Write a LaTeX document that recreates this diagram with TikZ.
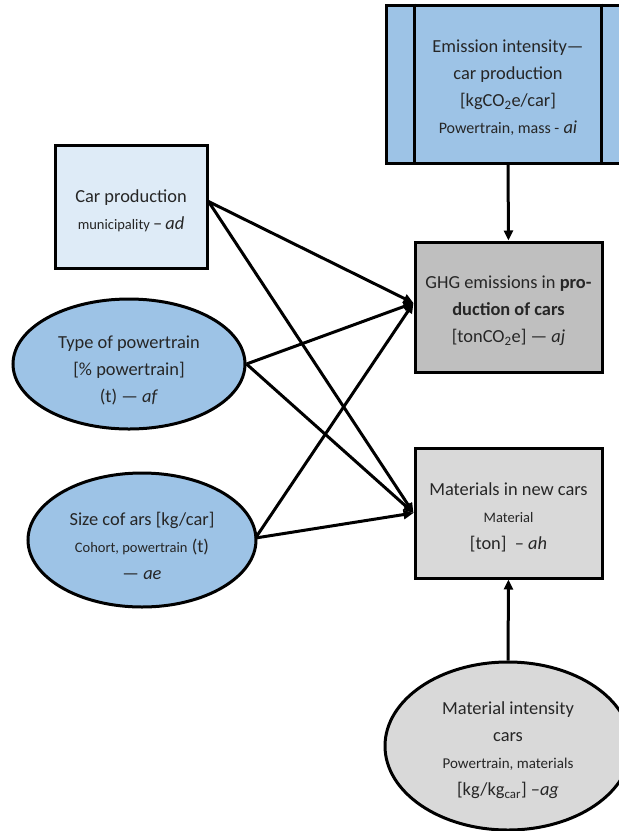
\documentclass[tikz,border=0pt]{standalone}
\usepackage{fontspec}
\setmainfont{Carlito}
\usetikzlibrary{shapes.geometric,arrows.meta}
\definecolor{midblue}{HTML}{9DC3E6}
\definecolor{paleblue}{HTML}{DEEBF7}
\definecolor{darkgrey}{HTML}{BFBFBF}
\definecolor{lightgrey}{HTML}{D9D9D9}
\definecolor{txt}{HTML}{262626}
\newcommand{\sm}[1]{{\fontsize{14.5}{27}\selectfont #1}}
\newcommand{\smb}[1]{{\fontsize{16}{27}\selectfont #1}}
\newcommand{\tsa}{\rule{0pt}{21pt}}
\newcommand{\tsb}{\rule{0pt}{25pt}}
\begin{document}
\begin{tikzpicture}[x=1pt,y=-1pt,
  base/.style={draw=black,line width=3pt,inner sep=0pt,align=center,text=txt,
    font=\fontsize{18.4}{27}\selectfont},
  boxnode/.style={base,rectangle},
  ellnode/.style={base,ellipse},
  conn/.style={line width=3pt,-{Triangle[length=10pt,width=9pt]}}
]
\clip (0,0) rectangle (619,831);
\fill[white] (0,0) rectangle (619,831);

\node[boxnode,fill=midblue,minimum width=244pt,minimum height=158pt] (ei) at (508,84)
  {\tsa Emission intensity—\\car production\\{[}kgCO\textsubscript{2}e/car{]}\\\smb{Powertrain, mass -} \textit{ai}};
\draw[line width=3pt] ([xshift=30pt]ei.north west) -- ([xshift=30pt]ei.south west);
\draw[line width=3pt] ([xshift=-30pt]ei.north east) -- ([xshift=-30pt]ei.south east);

\node[boxnode,fill=paleblue,minimum width=152pt,minimum height=123pt] (cp) at (131,206.5)
  {\tsa Car production\\\sm{municipality}\,–\,\textit{ad}};

\node[ellnode,fill=midblue,minimum width=232pt,minimum height=130pt] (tp) at (129,364)
  {\tsb Type of powertrain\\{[}\% powertrain{]}\\(t) — \textit{af}};

\node[ellnode,fill=midblue,minimum width=228pt,minimum height=134pt] (sz) at (142,540)
  {\tsb Size cof ars {[}kg/car{]}\\\sm{Cohort, powertrain} (t)\\— \textit{ae}};

\node[boxnode,fill=darkgrey,minimum width=187pt,minimum height=130pt] (ghg) at (508.5,307)
  {\tsa GHG emissions in \textbf{pro-}\\\textbf{duction of cars}\\{[}tonCO\textsubscript{2}e{]} — \textit{aj}};

\node[boxnode,fill=lightgrey,minimum width=187pt,minimum height=130pt] (mat) at (508.5,513)
  {\tsa Materials in new cars\\\sm{Material}\\{[}ton{]}\ \ – \textit{ah}};

\node[ellnode,fill=lightgrey,minimum width=246pt,minimum height=168pt] (mi) at (508,746)
  {\tsa Material intensity\\cars\\{\fontsize{15}{27}\selectfont Powertrain, materials}\\{[}kg/kg\textsubscript{car}{]} –\textit{ag}};

\draw[conn] (ei.south) -- (ghg.north);
\draw[conn] (mi.north) -- (mat.south);
\draw[conn] ([yshift=5pt]cp.east) -- ([yshift=4pt]ghg.west);
\draw[conn] ([yshift=5pt]cp.east) -- (mat.west);
\draw[conn] (tp.east) -- ([yshift=4pt]ghg.west);
\draw[conn] (tp.east) -- (mat.west);
\draw[conn] ([xshift=-2pt,yshift=2pt]sz.east) -- ([yshift=4pt]ghg.west);
\draw[conn] ([xshift=-2pt,yshift=2pt]sz.east) -- (mat.west);
\end{tikzpicture}
\end{document}
